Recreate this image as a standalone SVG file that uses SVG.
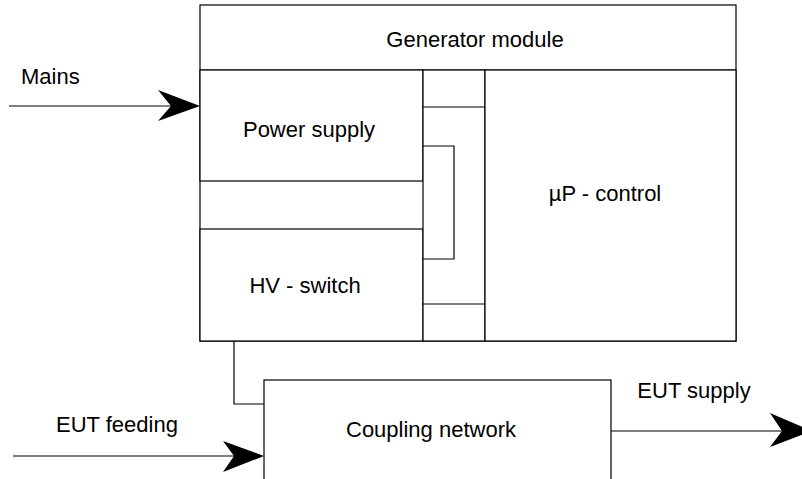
<svg xmlns="http://www.w3.org/2000/svg" width="802" height="479" viewBox="0 0 802 479">
<style>
.box{fill:#fff;stroke:#000;stroke-width:1.2}
.ln{fill:none;stroke:#000;stroke-width:1.2}
.ah{fill:#000;stroke:none}
text{font-family:"Liberation Sans",Arial,sans-serif;font-size:22px;fill:#000}
.c{text-anchor:middle}
</style>
<rect width="802" height="479" fill="#fff"/>
<g id="generator-module">
<rect class="box" x="200" y="5" width="536" height="336"/>
<line class="ln" x1="200" y1="70" x2="736" y2="70"/>
<text class="c" x="475" y="47">Generator module</text>
</g>
<g id="power-supply">
<rect class="box" x="200" y="70" width="223" height="111"/>
<text class="c" x="309" y="137">Power supply</text>
</g>
<g id="hv-switch">
<rect class="box" x="200" y="229" width="223" height="112"/>
<text class="c" x="305" y="293">HV - switch</text>
</g>
<g id="bus">
<rect class="box" x="423" y="70" width="62" height="271"/>
<line class="ln" x1="423" y1="107" x2="485" y2="107"/>
<line class="ln" x1="423" y1="304" x2="485" y2="304"/>
</g>
<g id="up-control">
<rect class="box" x="485" y="70" width="251" height="271"/>
<text class="c" x="605" y="201">µP - control</text>
</g>
<g id="coupling-network">
<rect class="box" x="264" y="380" width="347" height="130"/>
<text class="c" x="431" y="437">Coupling network</text>
</g>
<g id="connectors">
<polyline class="ln" points="423,146 454,146 454,259 423,259"/>
<polyline class="ln" points="234,341 234,404 264,404"/>
<line class="ln" x1="9" y1="106" x2="172" y2="106"/>
<path class="ah" d="M200,106 L158,90 L171,106 L158,121 Z"/>
<line class="ln" x1="13" y1="456" x2="235" y2="456"/>
<path class="ah" d="M264,456 L223,441 L234,456 L223,472 Z"/>
<line class="ln" x1="611" y1="431" x2="783" y2="431"/>
<path class="ah" d="M812,431 L770,413 L782,431 L770,447 Z"/>
</g>
<g id="labels">
<text x="21" y="84">Mains</text>
<text class="c" x="117" y="432">EUT feeding</text>
<text class="c" x="694" y="398">EUT supply</text>
</g>
</svg>
